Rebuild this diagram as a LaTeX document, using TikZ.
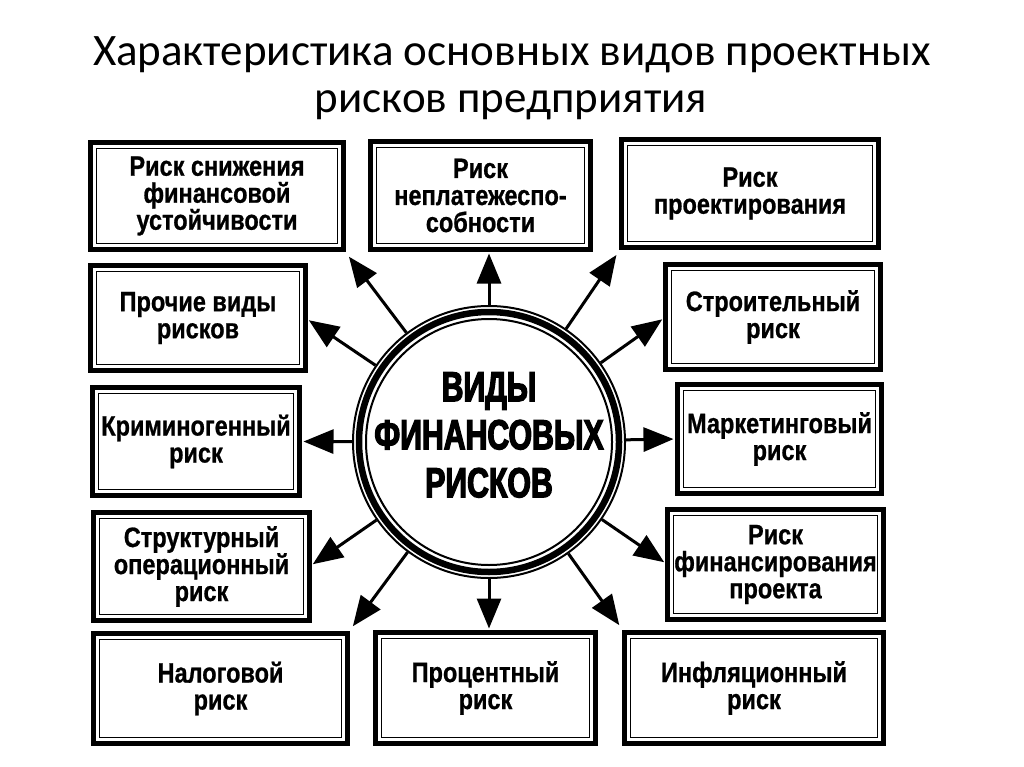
\documentclass[tikz,border=0pt]{standalone}
\usepackage{fontspec}
\setmainfont{Carlito}
\newfontfamily\boxfont[FakeStretch=0.84,FakeBold=0.8]{Liberation Sans Bold}
\newfontfamily\hubfont[FakeStretch=0.72,FakeBold=3]{Liberation Sans Bold}
\usetikzlibrary{arrows.meta}
\tikzset{
  rbox/.style={draw, line width=5pt, inner sep=0pt, outer sep=0pt, align=center,
    font=\boxfont\fontsize{28}{27}\selectfont},
  hubtext/.style={align=center, inner sep=0pt, font=\hubfont\fontsize{42}{48}\selectfont},
  titletext/.style={anchor=base, inner sep=0pt, font=\fontsize{45}{54}\selectfont},
  arr/.style={line width=3pt, -{Triangle[length=30pt,width=24pt]}, shorten >=4pt},
  carr/.style={arr, shorten >=9pt},
}
\newcommand\riskcard[6]{%
  \node[rbox, minimum width={#4pt-5pt}, minimum height={#5pt-5pt}] (#1) at (#2,#3) {#6};
  \draw[line width=1.5pt] ([xshift=6pt,yshift=-6pt]#1.north west) rectangle ([xshift=-6pt,yshift=6pt]#1.south east);
}
\begin{document}
\begin{tikzpicture}[x=1pt,y=-1pt]
\fill[white] (0,0) rectangle (1024,767);
\useasboundingbox (0,0) rectangle (1024,767);

\node[titletext] (t1) at (512,66) {Характеристика основных видов проектных};
\node[titletext] (t2) at (511,113) {рисков предприятия};

\riskcard{A}{217}{196}{258}{112}{Риск снижения\\финансовой\\устойчивости}
\riskcard{B}{480.5}{195.5}{225}{113}{Риск\\неплатежеспо-\\собности}
\riskcard{C}{750}{193.5}{262}{113}{Риск\\проектирования}
\riskcard{P}{198}{318}{220}{110}{Прочие виды\\рисков}
\riskcard{S}{773}{317}{220}{110}{Строительный\\риск}
\riskcard{K}{196}{441.5}{212}{113}{Криминогенный\\риск}
\riskcard{M}{779.5}{439}{209}{114}{Маркетинговый\\риск}
\riskcard{St}{201.5}{566.5}{221}{113}{Структурный\\операционный\\риск}
\riskcard{F}{775.5}{564.5}{221}{115}{Риск\\финансирования\\проекта}
\riskcard{N}{220.5}{688.5}{259}{115}{Налоговой\\риск}
\riskcard{Pr}{485.5}{688}{225}{116}{Процентный\\риск}
\riskcard{I}{754}{688}{264}{116}{Инфляционный\\риск}

\node[circle, minimum size=274pt, inner sep=0pt, outer sep=0pt] (c) at (489,442) {};
\draw[line width=2pt] (c.center) circle[radius=136pt];
\draw[line width=6.5pt] (c.center) circle[radius=130pt];
\draw[line width=2pt] (c.center) circle[radius=123pt];
\node[hubtext] (ct) at (489,435) {ВИДЫ\\ФИНАНСОВЫХ\\РИСКОВ};

\draw[arr] (c) -- (c |- B.south);
\draw[carr] (c) -- (A.south east);
\draw[carr] (c) -- (C.south west);
\draw[arr] (c) -- (P.east);
\draw[arr] (c) -- (S.west);
\draw[arr] (c) -- (K.east);
\draw[arr] (c) -- (M.west);
\draw[arr] (c) -- (St.east);
\draw[arr] (c) -- (F.west);
\draw[carr] (c) -- (N.north east);
\draw[arr] (c) -- (c |- Pr.north);
\draw[carr] (c) -- (I.north west);
\end{tikzpicture}
\end{document}
